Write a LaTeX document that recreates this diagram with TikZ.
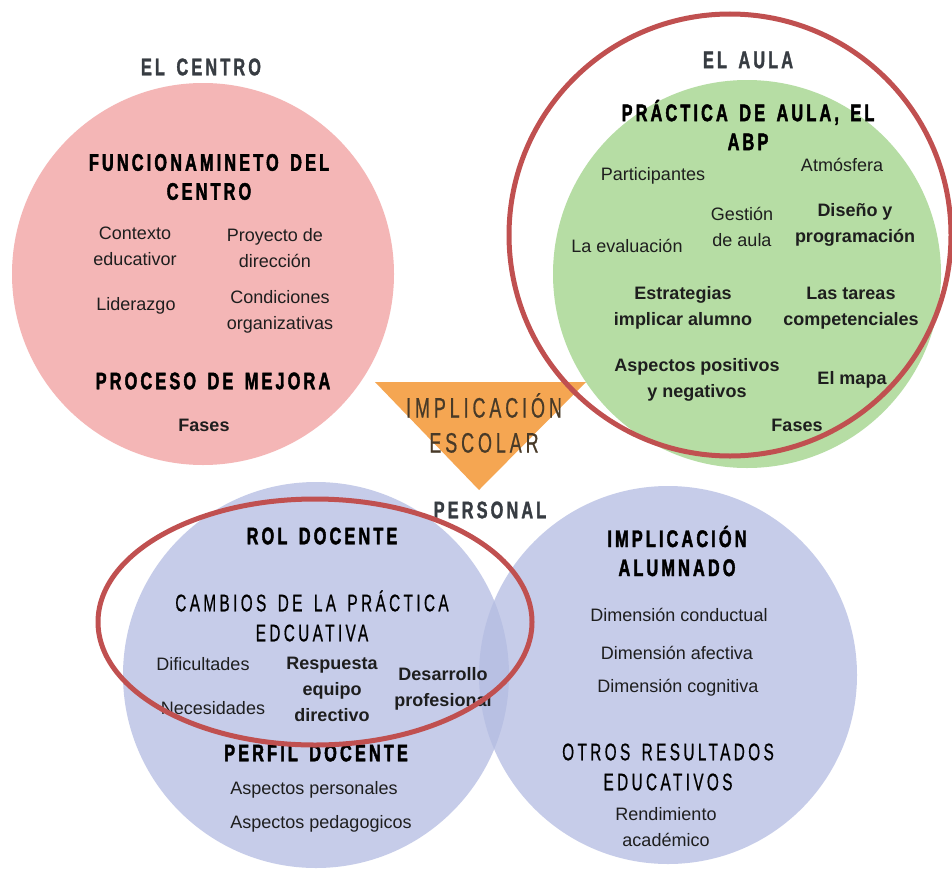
\documentclass[tikz,border=0pt]{standalone}
\usepackage{fontspec}
\setmainfont{Liberation Sans}
% condensed, letter-spaced display faces for the headings
\newfontfamily\headfont[FakeStretch=0.68,LetterSpace=13,WordSpace=1.5,FakeBold=1.4]{Liberation Sans}
\newfontfamily\heavyfont[FakeStretch=0.68,LetterSpace=13,WordSpace=1.5,FakeBold=1.8]{Liberation Sans}
\newfontfamily\lightfont[FakeStretch=0.64,LetterSpace=14,WordSpace=1.5,FakeBold=0.6]{Liberation Sans}
\definecolor{pinkfill}{RGB}{244,182,182}
\definecolor{greenfill}{RGB}{182,221,164}
\definecolor{bluefill}{RGB}{180,188,226}
\definecolor{ringred}{RGB}{192,80,80}
\definecolor{orangefill}{RGB}{245,166,82}
\definecolor{txt}{RGB}{30,30,30}
\definecolor{graytitle}{RGB}{55,60,66}
\definecolor{browntxt}{RGB}{72,58,40}
\tikzset{
  x=1pt, y=-1pt,
  body/.style={font=\fontsize{18}{26}\selectfont, text=txt, align=center, inner sep=0pt},
  bodyb/.style={font=\fontsize{18}{26}\selectfont\bfseries, text=txt, align=center, inner sep=0pt},
  heavy/.style={font=\heavyfont\fontsize{24}{29}\selectfont\bfseries, text=black, align=center, inner sep=0pt},
  title/.style={font=\headfont\fontsize{24}{29}\selectfont\bfseries, text=graytitle, align=center, inner sep=0pt},
  light/.style={font=\lightfont\fontsize{24}{30}\selectfont, text=black, align=center, inner sep=0pt},
  ring/.style={draw=ringred, line width=5pt},
}
\begin{document}
\begin{tikzpicture}
\useasboundingbox (0,0) rectangle (952,875);
\fill[white] (0,0) rectangle (952,875);

% circles
\fill[pinkfill] (203,274) circle[radius=191];
\fill[greenfill] (747,274) circle[radius=194];
\fill[bluefill, opacity=0.75] (316,675) circle[radius=193];
\fill[bluefill, opacity=0.75] (668,675) circle[radius=189];

% central triangle
\fill[orangefill] (375,382) -- (586,382) -- (479,490) -- cycle;
\node[light, font=\lightfont\fontsize{28}{35}\selectfont, text=browntxt] (impl) at (484,423) {IMPLICACIÓN\\ESCOLAR};
\node[title] (personal) at (490,510) {PERSONAL};

% el centro
\node[title] (centro) at (201,67) {EL CENTRO};
\node[heavy] (func) at (209,177) {FUNCIONAMINETO DEL\\CENTRO};
\node[body] (contexto) at (135,246) {Contexto\\educativor};
\node[body] (proyecto) at (275,248) {Proyecto de\\dirección};
\node[body] (liderazgo) at (136,306) {Liderazgo};
\node[body] (condiciones) at (280,312) {Condiciones\\organizativas};
\node[heavy] (mejora) at (213,381) {PROCESO DE MEJORA};
\node[bodyb] (fases1) at (204,425) {Fases};

% el aula
\node[title] (aula) at (748,60) {EL AULA};
\node[heavy] (practica) at (748,125) {PRÁCTICA DE AULA, EL\\ABP};
\node[body] (particip) at (653,176) {Participantes};
\node[body] (atmosfera) at (842,165) {Atmósfera};
\node[body] (gestion) at (742,227) {Gestión\\de aula};
\node[bodyb] (diseno) at (855,225) {Diseño y\\programación};
\node[body] (evaluacion) at (627,246) {La evaluación};
\node[bodyb] (estrategias) at (683,308) {Estrategias\\implicar alumno};
\node[bodyb] (tareas) at (851,308) {Las tareas\\competenciales};
\node[bodyb] (aspectos) at (697,380) {Aspectos positivos\\y negativos};
\node[bodyb] (mapa) at (852,380) {El mapa};
\node[bodyb] (fases2) at (797,425) {Fases};

% personal: rol y perfil docente
\node[heavy] (rol) at (322,536) {ROL DOCENTE};
\node[light] (cambios) at (312,616) {CAMBIOS DE LA PRÁCTICA\\EDCUATIVA};
\node[body] (dificultades) at (203,664) {Dificultades};
\node[body] (necesidades) at (213,708) {Necesidades};
\node[bodyb] (respuesta) at (332,689) {Respuesta\\equipo\\directivo};
\node[bodyb] (desarrollo) at (443,689) {Desarrollo\\profesional};
\node[heavy] (perfil) at (316,753) {PERFIL DOCENTE};
\node[body] (personales) at (314,790) {Aspectos personales};
\node[body] (pedagogicos) at (321,824) {Aspectos pedagogicos};

% personal: alumnado
\node[heavy] (alumnado) at (677,551) {IMPLICACIÓN\\ALUMNADO};
\node[body] (conductual) at (679,615) {Dimensión conductual};
\node[body] (afectiva) at (677,653) {Dimensión afectiva};
\node[body] (cognitiva) at (678,688) {Dimensión cognitiva};
\node[light] (otros) at (668,767) {OTROS RESULTADOS\\EDUCATIVOS};
\node[body] (rendimiento) at (666,827) {Rendimiento\\académico};

% highlight rings
\draw[ring] (730,235) circle[radius=221];
\draw[ring] (315,622) ellipse[x radius=217, y radius=123];
\end{tikzpicture}
\end{document}
